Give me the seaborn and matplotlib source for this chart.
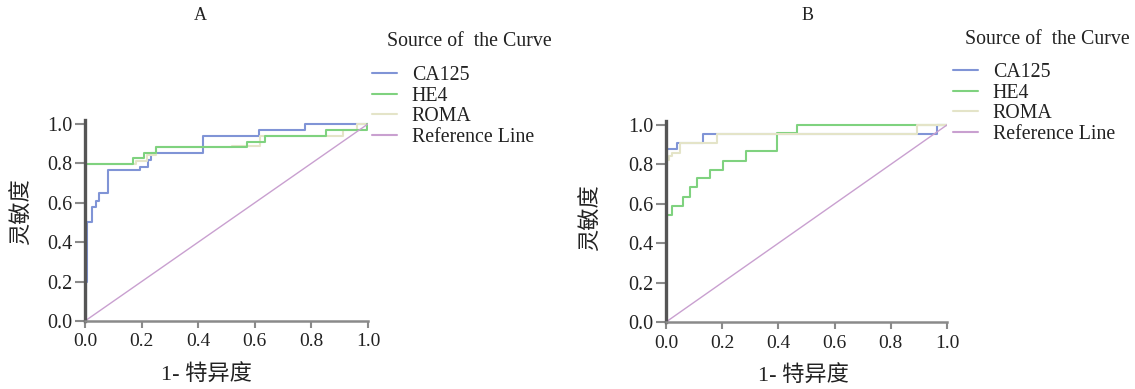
import matplotlib
matplotlib.use("Agg")
import matplotlib.pyplot as plt
import seaborn as sns
import numpy as np

# ---------------- data ----------------
series_names = ["CA125", "HE4", "ROMA", "Reference Line"]

# Panel A
A_ca125_fpr = [0, 0.003, 0.006, 0.008, 0.024, 0.039, 0.05, 0.083, 0.194, 0.224, 0.232, 0.418, 0.616, 0.777, 1.0]
A_ca125_tpr = [0, 0.20, 0.40, 0.50, 0.58, 0.61, 0.65, 0.766, 0.783, 0.817, 0.851, 0.94, 0.97, 1.0, 1.0]
A_he4_fpr = [0, 0, 0.168, 0.21, 0.25, 0.571, 0.636, 0.852, 0.995, 1.0]
A_he4_tpr = [0, 0.795, 0.826, 0.851, 0.882, 0.91, 0.94, 0.97, 1.0, 1.0]
A_roma_fpr = [0, 0, 0.18, 0.22, 0.25, 0.52, 0.62, 0.912, 0.96, 1.0]
A_roma_tpr = [0, 0.795, 0.81, 0.84, 0.882, 0.89, 0.94, 0.97, 1.0, 1.0]

# Panel B
B_ca125_fpr = [0, 0, 0.038, 0.133, 0.964, 1.0]
B_ca125_tpr = [0, 0.88, 0.907, 0.954, 1.0, 1.0]
B_he4_fpr = [0, 0, 0.02, 0.062, 0.085, 0.109, 0.157, 0.204, 0.285, 0.394, 0.465, 1.0]
B_he4_tpr = [0, 0.543, 0.59, 0.636, 0.687, 0.729, 0.772, 0.817, 0.866, 0.958, 1.0, 1.0]
B_roma_fpr = [0, 0, 0.01, 0.02, 0.05, 0.18, 0.893, 1.0]
B_roma_tpr = [0, 0.82, 0.84, 0.86, 0.907, 0.954, 1.0, 1.0]

ref_fpr = [0, 1]
ref_tpr = [0, 1]

x_ticks = [0.0, 0.2, 0.4, 0.6, 0.8, 1.0]
y_ticks = [0.0, 0.2, 0.4, 0.6, 0.8, 1.0]
tick_labels = ["0.0", "0.2", "0.4", "0.6", "0.8", "1.0"]
panel_titles = ["A", "B"]
x_label = "1- 特异度"
y_label = "灵敏度"
legend_title = "Source of  the Curve"

# ---------------- style ----------------
sns.set_theme(style="ticks")
serif_cjk = ["Liberation Serif", "Noto Sans CJK SC"]
plt.rcParams["font.family"] = serif_cjk

colors = {"CA125": "#8094d6", "HE4": "#7fd27f", "ROMA": "#e4e4c8", "Reference Line": "#c9a0d0"}

fig = plt.figure(figsize=(11.35, 3.89), dpi=100)
W, H = 1135, 389

def fig_rect(l, b, w, h):
    return [l / W, (H - b) / H, w / W, h / H]

axA = fig.add_axes(fig_rect(85, 321, 283, 201))
axB = fig.add_axes(fig_rect(666, 322, 281, 201))

panels = [
    (axA, {"CA125": (A_ca125_fpr, A_ca125_tpr), "HE4": (A_he4_fpr, A_he4_tpr),
           "ROMA": (A_roma_fpr, A_roma_tpr)}),
    (axB, {"CA125": (B_ca125_fpr, B_ca125_tpr), "HE4": (B_he4_fpr, B_he4_tpr),
           "ROMA": (B_roma_fpr, B_roma_tpr)}),
]

order_draw = {0: ["CA125", "ROMA", "HE4"], 1: ["CA125", "HE4", "ROMA"]}
legend_anchor = {0: (372, 66), 1: (953, 63)}
FS_LEG = 14.3

for i, (ax, data) in enumerate(panels):
    for name in order_draw[i]:
        fpr, tpr = data[name]
        sns.lineplot(x=fpr, y=tpr, ax=ax, drawstyle="steps-post", sort=False, estimator=None,
                     color=colors[name], linewidth=1.5, label=name)
    sns.lineplot(x=ref_fpr, y=ref_tpr, ax=ax, sort=False, estimator=None,
                 color=colors["Reference Line"], linewidth=1.0, label="Reference Line")
    h, l = ax.get_legend_handles_labels()
    hd = dict(zip(l, h))
    ax.get_legend().remove()

    ax.set_xlim(0, 1.0)
    ax.set_ylim(0, 1.02)
    ax.set_xticks(x_ticks)
    ax.set_xticklabels(tick_labels)
    ax.set_yticks(y_ticks)
    ax.set_yticklabels(tick_labels)
    ax.tick_params(axis="x", labelsize=14, length=5, width=1.5, color="#8a8a8a", pad=4)
    ax.tick_params(axis="y", labelsize=14.5, length=7, width=1.5, color="#8a8a8a", pad=2)
    for lab in ax.get_xticklabels() + ax.get_yticklabels():
        lab.set_family(serif_cjk)
        lab.set_color("#222222")
    sns.despine(ax=ax)
    ax.spines["left"].set_linewidth(2.4)
    ax.spines["left"].set_color("#555555")
    ax.spines["bottom"].set_linewidth(1.8)
    ax.spines["bottom"].set_color("#8a8a8a")
    ax.set_facecolor("white")

    ax.set_xlabel(x_label, fontsize=16, family=serif_cjk, color="#222222")
    ax.set_ylabel(y_label, fontsize=16, family=serif_cjk, color="#222222")

    ax_x, ax_y = legend_anchor[i]
    leg = ax.legend([hd[n] for n in series_names], series_names, loc="upper left",
                    bbox_to_anchor=(ax_x / W, 1 - ax_y / H),
                    bbox_transform=fig.transFigure, frameon=False, fontsize=FS_LEG,
                    handlelength=1.25, handletextpad=0.75, labelspacing=0.08,
                    borderpad=0, borderaxespad=0)
    for t in leg.get_texts():
        t.set_family(serif_cjk)
        t.set_color("#222222")
    for lh in leg.get_lines():
        lh.set_linewidth(1.5)

axA.xaxis.set_label_coords((206 - 85) / 283, -0.22)
axB.xaxis.set_label_coords((803 - 666) / 281, -0.22)
axA.yaxis.set_label_coords((33 - 85) / 283, (321 - 212) / 201)
axB.yaxis.set_label_coords((602 - 666) / 281, (322 - 218) / 201)

fig.text(200 / W, 1 - 15 / H, panel_titles[0], fontsize=13, ha="center", va="center",
         family=serif_cjk, color="#222222")
fig.text(808 / W, 1 - 15 / H, panel_titles[1], fontsize=13, ha="center", va="center",
         family=serif_cjk, color="#222222")
fig.text(387 / W, 1 - 41 / H, legend_title, fontsize=FS_LEG, ha="left", va="center",
         family=serif_cjk, color="#222222")
fig.text(965 / W, 1 - 39 / H, legend_title, fontsize=FS_LEG, ha="left", va="center",
         family=serif_cjk, color="#222222")

fig.savefig("out.png", dpi=100, facecolor="white")
